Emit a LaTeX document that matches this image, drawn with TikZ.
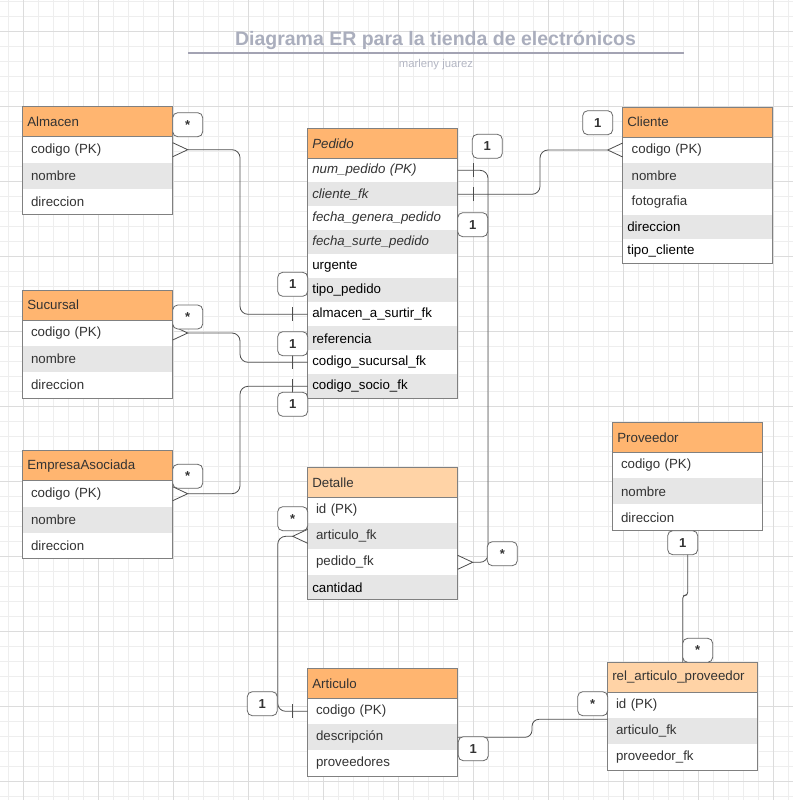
\documentclass[tikz,border=0pt]{standalone}
\usepackage{fontspec}
\setmainfont{Liberation Sans}
\definecolor{hdrorange}{HTML}{FFB570}
\definecolor{hdrlight}{HTML}{FFD3A6}
\definecolor{rowgray}{HTML}{E6E6E6}
\definecolor{boxc}{HTML}{808080}
\definecolor{txtc}{HTML}{333333}
\definecolor{connc}{HTML}{4D4D4D}
\definecolor{lblc}{HTML}{666666}
\definecolor{gridmin}{HTML}{EEEEEE}
\definecolor{gridmaj}{HTML}{DCDCDC}
\definecolor{titlec}{HTML}{AAAEBD}
\definecolor{ulc}{HTML}{A3A3B3}
\definecolor{subc}{HTML}{B3B6C3}
\newcommand\rowfont{\fontsize{13.3}{15}\selectfont}
\newcommand\mycrowE[1]{\draw[conn] ([yshift=7pt]#1.east) -- ([xshift=15pt]#1.east) -- ([yshift=-7pt]#1.east);}
\newcommand\mycrowW[1]{\draw[conn] ([yshift=7pt]#1.west) -- ([xshift=-15pt]#1.west) -- ([yshift=-7pt]#1.west);}
\newcommand\mytickW[1]{\draw[conn] ([xshift=-15pt,yshift=7pt]#1.west) -- ([xshift=-15pt,yshift=-7pt]#1.west);}
\newcommand\mytickE[1]{\draw[conn] ([xshift=15.6pt,yshift=7pt]#1.east) -- ([xshift=15.6pt,yshift=-7pt]#1.east);}
\tikzset{
  hdr/.style={fill=hdrorange, anchor=north west, outer sep=0pt, inner ysep=0pt, inner xsep=4.6pt, text width=140.8pt, minimum height=30pt, align=left, text=txtc, font=\rowfont},
  hdrlite/.style={hdr, fill=hdrlight},
  rowa/.style={fill=white, anchor=north west, outer sep=0pt, inner ysep=0pt, inner xsep=8.3pt, text width=133.4pt, minimum height=26pt, align=left, text=txtc, font=\rowfont},
  rowg/.style={rowa, fill=rowgray},
  rowp/.style={rowa, inner xsep=4.6pt, text width=140.8pt, minimum height=24pt, text=black},
  rowpg/.style={rowp, fill=rowgray},
  boxline/.style={draw=boxc, line width=0.9pt},
  conn/.style={draw=connc, line width=0.8pt},
  lbl/.style={draw=lblc, fill=white, rounded corners=5pt, minimum width=30pt, minimum height=24pt, anchor=north west, outer sep=0pt, inner sep=0pt, font=\bfseries\fontsize{13}{13}\selectfont, text=txtc, line width=0.8pt},
}
\begin{document}
\begin{tikzpicture}[x=1pt,y=-1pt]
\useasboundingbox (0,0) rectangle (793,800);
\fill[white] (0,0) rectangle (793,800);
% grid
\foreach \k in {0,...,52} {\draw[gridmin, line width=0.7pt] ({8.3+15*\k},0) -- ({8.3+15*\k},800);}
\foreach \k in {0,...,53} {\draw[gridmin, line width=0.7pt] (0,{1.7+15*\k}) -- (793,{1.7+15*\k});}
\foreach \k in {0,...,10} {\draw[gridmaj, line width=0.8pt] ({23.3+75*\k},0) -- ({23.3+75*\k},800);}
\foreach \k in {0,...,10} {\draw[gridmaj, line width=0.8pt] (0,{31.7+75*\k}) -- (793,{31.7+75*\k});}

% title
\node[anchor=base, font=\bfseries\fontsize{19.5}{20}\selectfont, text=titlec, inner sep=0pt] (title) at (435.5,46) {Diagrama ER para la tienda de electrónicos};
\draw[ulc, line width=1.3pt] (188.3,53) -- (684,53);
\node[anchor=base, font=\fontsize{11.3}{12}\selectfont, text=subc, inner sep=0pt] (author) at (436,67.5) {marleny juarez};

% Almacen
\node[hdr] (almh) at (22.7,106.7) {Almacen};
\node[rowa] (almc) at (almh.south west) {codigo (PK)};
\node[rowg] (almn) at (almc.south west) {nombre};
\node[rowa] (almd) at (almn.south west) {direccion};
\draw[boxline] (almh.north west) rectangle (almd.south east);
\draw[boxline] (almh.south west) -- (almh.south east);

% Sucursal
\node[hdr] (such) at (22.7,290) {Sucursal};
\node[rowa] (succ) at (such.south west) {codigo (PK)};
\node[rowg] (sucn) at (succ.south west) {nombre};
\node[rowa] (sucd) at (sucn.south west) {direccion};
\draw[boxline] (such.north west) rectangle (sucd.south east);
\draw[boxline] (such.south west) -- (such.south east);

% EmpresaAsociada
\node[hdr] (emph) at (22.7,450.7) {EmpresaAsociada};
\node[rowa] (empc) at (emph.south west) {codigo (PK)};
\node[rowg] (empn) at (empc.south west) {nombre};
\node[rowa] (empd) at (empn.south west) {direccion};
\draw[boxline] (emph.north west) rectangle (empd.south east);
\draw[boxline] (emph.south west) -- (emph.south east);

% Pedido
\node[hdr] (pedh) at (307.7,128.3) {\itshape Pedido};
\node[rowp, text=txtc] (pednum) at (pedh.south west) {\itshape num\_pedido (PK)};
\node[rowpg, text=txtc] (pedcli) at (pednum.south west) {\itshape cliente\_fk};
\node[rowp, text=txtc] (pedfg) at (pedcli.south west) {\itshape fecha\_genera\_pedido};
\node[rowpg, text=txtc] (pedfs) at (pedfg.south west) {\itshape fecha\_surte\_pedido};
\node[rowp] (pedurg) at (pedfs.south west) {urgente};
\node[rowpg] (pedtip) at (pedurg.south west) {tipo\_pedido};
\node[rowp] (pedalm) at (pedtip.south west) {almacen\_a\_surtir\_fk};
\node[rowpg] (pedref) at (pedalm.south west) {referencia};
\node[rowp] (pedsuc) at (pedref.south west) {codigo\_sucursal\_fk};
\node[rowpg] (pedsoc) at (pedsuc.south west) {codigo\_socio\_fk};
\draw[boxline] (pedh.north west) rectangle (pedsoc.south east);
\draw[boxline] (pedh.south west) -- (pedh.south east);

% Cliente
\node[hdr] (clih) at (622.7,107) {Cliente};
\node[rowa, inner xsep=9pt, text width=132pt] (clic) at (clih.south west) {codigo (PK)};
\node[rowg, inner xsep=9pt, text width=132pt] (clin) at (clic.south west) {nombre};
\node[rowa, inner xsep=9pt, text width=132pt] (clif) at (clin.south west) {fotografia};
\node[rowpg] (clid) at (clif.south west) {direccion};
\node[rowp] (clit) at (clid.south west) {tipo\_cliente};
\draw[boxline] (clih.north west) rectangle (clit.south east);
\draw[boxline] (clih.south west) -- (clih.south east);

% Detalle
\node[hdrlite] (deth) at (307.7,467.3) {Detalle};
\node[rowa] (detid) at (deth.south west) {id (PK)};
\node[rowg] (detart) at (detid.south west) {articulo\_fk};
\node[rowa] (detped) at (detart.south west) {pedido\_fk};
\node[rowpg] (detcan) at (detped.south west) {cantidad};
\draw[boxline] (deth.north west) rectangle (detcan.south east);
\draw[boxline] (deth.south west) -- (deth.south east);

% Articulo
\node[hdr] (arth) at (307.7,668.3) {Articulo};
\node[rowa] (artc) at (arth.south west) {codigo (PK)};
\node[rowg] (artd) at (artc.south west) {descripción};
\node[rowa] (artp) at (artd.south west) {proveedores};
\draw[boxline] (arth.north west) rectangle (artp.south east);
\draw[boxline] (arth.south west) -- (arth.south east);

% Proveedor
\node[hdr] (provh) at (612.7,422.3) {Proveedor};
\node[rowa] (provc) at (provh.south west) {codigo (PK)};
\node[rowg] (provn) at (provc.south west) {nombre};
\node[rowa] (provd) at (provn.south west) {direccion};
\draw[boxline] (provh.north west) rectangle (provd.south east);
\draw[boxline] (provh.south west) -- (provh.south east);

% rel_articulo_proveedor
\node[hdrlite] (relh) at (607.7,662.3) {rel\_articulo\_proveedor};
\node[rowa] (relid) at (relh.south west) {id (PK)};
\node[rowg] (relart) at (relid.south west) {articulo\_fk};
\node[rowa] (relprov) at (relart.south west) {proveedor\_fk};
\draw[boxline] (relh.north west) rectangle (relprov.south east);
\draw[boxline] (relh.south west) -- (relh.south east);

% connectors
\draw[conn, rounded corners=8pt] ([xshift=15pt]almc.east) -| ([xshift=-67.7pt]pedalm.west) -- (pedalm.west);
\mycrowE{almc}
\mytickW{pedalm}

\draw[conn, rounded corners=8pt] ([xshift=15pt]succ.east) -| ([xshift=-67.7pt]pedsuc.west) -- (pedsuc.west);
\mycrowE{succ}
\mytickW{pedsuc}

\draw[conn, rounded corners=8pt] ([xshift=15pt]empc.east) -| ([xshift=-67.7pt]pedsoc.west) -- (pedsoc.west);
\mycrowE{empc}
\mytickW{pedsoc}

\draw[conn, rounded corners=8pt] (pednum.east) -| ([xshift=30.3pt]detped.east) -- ([xshift=15pt]detped.east);
\mycrowE{detped}
\mytickE{pednum}

\draw[conn, rounded corners=8pt] (pedcli.east) -| ([xshift=-82.7pt]clic.west) -- ([xshift=-15pt]clic.west);
\mycrowW{clic}
\mytickE{pedcli}

\draw[conn, rounded corners=8pt] ([xshift=-15pt]detart.west) -| ([xshift=-30pt]artc.west) -- (artc.west);
\mycrowW{detart}
\mytickW{artc}

\draw[conn, rounded corners=7pt] (artd.east) -| ([xshift=-75.7pt,yshift=12pt]relart.west) -- ([yshift=12pt]relart.west);

\draw[conn, rounded corners=3pt] (provd.south) |- ([yshift=67pt]relh.north) -- (relh.north);

% labels
\node[lbl] (l1) at (172.7,112.7) {*};
\node[lbl] (l2) at (277.7,272.3) {1};
\node[lbl] (l3) at (172.7,305) {*};
\node[lbl] (l4) at (277.7,331.7) {1};
\node[lbl] (l5) at (277.7,392.3) {1};
\node[lbl] (l6) at (172.7,464.3) {*};
\node[lbl] (l7) at (277.7,506.7) {*};
\node[lbl] (l8) at (487.3,541.7) {*};
\node[lbl] (l9) at (472.3,134.3) {1};
\node[lbl] (l10) at (457.7,212.7) {1};
\node[lbl] (l11) at (582.7,110.7) {1};
\node[lbl] (l12) at (247.3,691.7) {1};
\node[lbl] (l13) at (458.3,736.7) {1};
\node[lbl] (l14) at (667.7,530.7) {1};
\node[lbl] (l15) at (682.7,638.3) {*};
\node[lbl] (l16) at (577.7,691.7) {*};
\end{tikzpicture}
\end{document}
